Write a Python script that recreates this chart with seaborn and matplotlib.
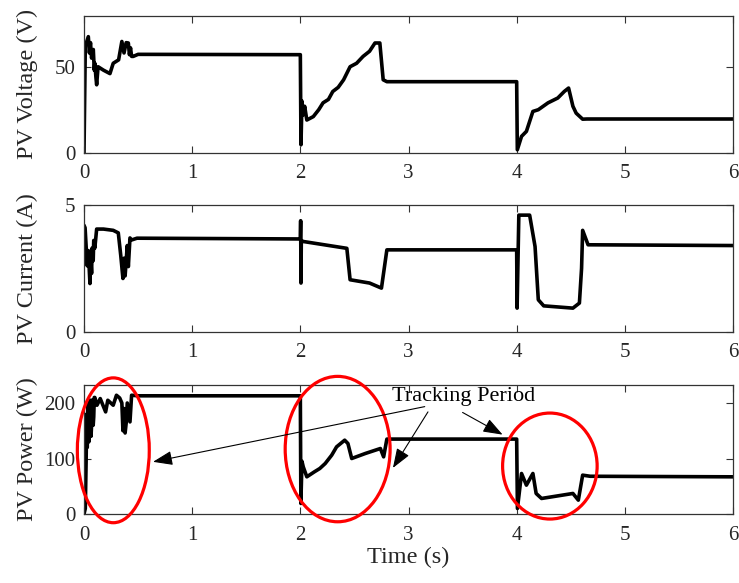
import matplotlib
matplotlib.use("Agg")
import matplotlib.pyplot as plt
from matplotlib.patches import Ellipse
import seaborn as sns

# PV voltage trace (s, V)
volt_t = [0, 0.012, 0.04, 0.05, 0.06, 0.07, 0.086, 0.095, 0.10, 0.11, 0.117, 0.13,
          0.18, 0.24, 0.27, 0.32, 0.35, 0.37, 0.39, 0.41, 0.42, 0.43, 0.44, 0.455,
          0.50, 2.0, 2.006, 2.015, 2.027, 2.04, 2.06, 2.12, 2.17, 2.21, 2.26, 2.30,
          2.35, 2.40, 2.46, 2.52, 2.58, 2.64, 2.69, 2.735, 2.766, 2.80, 4.0, 4.006,
          4.045, 4.09, 4.15, 4.20, 4.29, 4.38, 4.44, 4.48, 4.52, 4.55, 4.61, 4.65,
          6.0]
volt_v = [0, 62, 67.5, 58, 64, 55, 60, 48, 52, 44, 39.5, 50,
          48, 46, 52, 54, 64.7, 58, 64, 63.8, 57, 61, 56, 56,
          57.2, 57, 4.6, 30, 22, 27, 19, 21, 25, 29, 31, 35.6,
          38, 42.4, 50, 52, 56, 59, 63.8, 63.8, 42.4, 41.3, 41.3, 1.7,
          9.5, 12.4, 24, 25, 29, 31.8, 35.6, 37.6, 27, 23, 19.5, 19.6,
          19.6]

# PV current trace (s, A)
curr_t = [0, 0.01, 0.03, 0.04, 0.055, 0.06, 0.07, 0.075, 0.085, 0.09, 0.10, 0.117,
          0.18, 0.27, 0.317, 0.34, 0.36, 0.37, 0.38, 0.40, 0.41, 0.425, 0.44, 0.49,
          2.0, 2.003, 2.006, 2.009, 2.027, 2.43, 2.46, 2.64, 2.75, 2.80, 4.0, 4.004,
          4.02, 4.12, 4.17, 4.20, 4.25, 4.52, 4.58, 4.60, 4.61, 4.66, 6.0]
curr_i = [4.2, 4.1, 2.6, 3.2, 1.9, 3.1, 2.3, 3.3, 2.8, 3.6, 3.3, 4.05,
          4.05, 4.0, 3.9, 3.0, 2.1, 2.9, 2.2, 3.4, 2.57, 3.7, 3.62, 3.69,
          3.66, 4.38, 1.92, 3.6, 3.56, 3.29, 2.05, 1.92, 1.72, 3.23, 3.23, 0.93,
          4.6, 4.6, 3.36, 1.26, 1.02, 0.93, 1.13, 2.5, 4.0, 3.43, 3.4]

# PV power trace (s, W)
pow_t = [0, 0.012, 0.02, 0.025, 0.03, 0.035, 0.04, 0.045, 0.05, 0.055, 0.06, 0.065,
         0.07, 0.075, 0.08, 0.085, 0.09, 0.095, 0.10, 0.12, 0.15, 0.20, 0.22, 0.27,
         0.30, 0.33, 0.35, 0.36, 0.37, 0.38, 0.39, 0.40, 0.425, 0.44, 0.50, 2.0,
         2.005, 2.015, 2.027, 2.06, 2.13, 2.18, 2.23, 2.29, 2.335, 2.41, 2.44, 2.475,
         2.60, 2.74, 2.77, 2.80, 4.0, 4.007, 4.045, 4.09, 4.15, 4.18, 4.23, 4.52,
         4.57, 4.61, 4.68, 6.0]
pow_p = [0, 10, 100, 180, 120, 190, 200, 130, 150, 200, 205, 140,
         160, 205, 200, 160, 175, 210, 210, 196, 208, 184, 205, 196,
         214, 209, 200, 150, 190, 146, 164, 200, 166, 214, 213, 213,
         19, 95, 85, 67, 76, 82, 91, 106, 121, 133, 127, 100,
         109, 118, 103, 135, 135, 10, 73, 52, 73, 37, 28, 37,
         25, 70, 68, 67]

time_ticks = [0, 1, 2, 3, 4, 5, 6]
ylabels = ["PV Voltage (V)", "PV Current (A)", "PV Power (W)"]
yticks = [[0, 50], [0, 5], [0, 100, 200]]
ylims = [(0, 79.5), (0, 5), (0, 233)]

# tracking-period highlights: (centre t, centre W, width s, height W)
ring_cx = [0.271, 2.345, 4.307]
ring_cy = [114.8, 117, 86.4]
ring_w = [0.665, 0.97, 0.874]
ring_h = [261, 262, 191]

note_text = "Tracking Period"
note_xy = (2.85, 204)
arrow_tail = [(3.15, 193.5), (3.18, 184), (3.50, 183)]
arrow_head = [(0.638, 94), (2.856, 83), (3.87, 143)]

sns.set_theme(style="ticks")
plt.rcParams["font.family"] = ["Liberation Serif", "DejaVu Serif"]
plt.rcParams["axes.edgecolor"] = "#262626"
plt.rcParams["text.color"] = "#262626"

fig = plt.figure(figsize=(7.39, 5.83), dpi=100)
left, width = 84 / 739, 649 / 739
boxes = [(1 - 152.7 / 583, 136.7 / 583),
         (1 - 331.7 / 583, 126.7 / 583),
         (1 - 514.0 / 583, 129.3 / 583)]
axes = [fig.add_axes([left, b, width, h]) for b, h in boxes]

series = [(volt_t, volt_v), (curr_t, curr_i), (pow_t, pow_p)]
for ax, (tx, ty), lab, yt, yl in zip(axes, series, ylabels, yticks, ylims):
    sns.lineplot(x=tx, y=ty, ax=ax, color="black", linewidth=2.6,
                 estimator=None, sort=False)
    ax.set_xlim(0, 6)
    ax.set_ylim(*yl)
    ax.set_xticks(time_ticks)
    ax.set_yticks(yt)
    ax.set_ylabel(lab, fontsize=17.5)
    ax.yaxis.set_label_coords(-0.071, 0.5)
    for s in ax.spines.values():
        s.set_visible(True)
        s.set_linewidth(0.9)
        s.set_color("#333333")
    ax.tick_params(axis="both", which="both", direction="in", top=True, right=True,
                   length=5, width=0.8, colors="#333333", labelsize=15,
                   labelcolor="#262626")
    ax.tick_params(axis="x", pad=8.3)
    ax.tick_params(axis="y", pad=6.3)
    ax.grid(False)

pax = axes[2]
pax.set_xlabel("Time (s)", fontsize=17.5, labelpad=2)

for cx, cy, w, h in zip(ring_cx, ring_cy, ring_w, ring_h):
    pax.add_patch(Ellipse((cx, cy), w, h, fill=False, edgecolor="#ff0000",
                          linewidth=2.3, clip_on=False, zorder=5))

pax.text(note_xy[0], note_xy[1], note_text, fontsize=16, va="baseline",
         ha="left", color="black", zorder=6)
for tail, head in zip(arrow_tail, arrow_head):
    pax.annotate("", xy=head, xytext=tail,
                 arrowprops=dict(arrowstyle="-|>,head_length=0.6,head_width=0.22",
                                 mutation_scale=20, color="black", lw=0.8,
                                 shrinkA=0, shrinkB=0),
                 annotation_clip=False, zorder=6)

fig.savefig("out.png", dpi=100)
